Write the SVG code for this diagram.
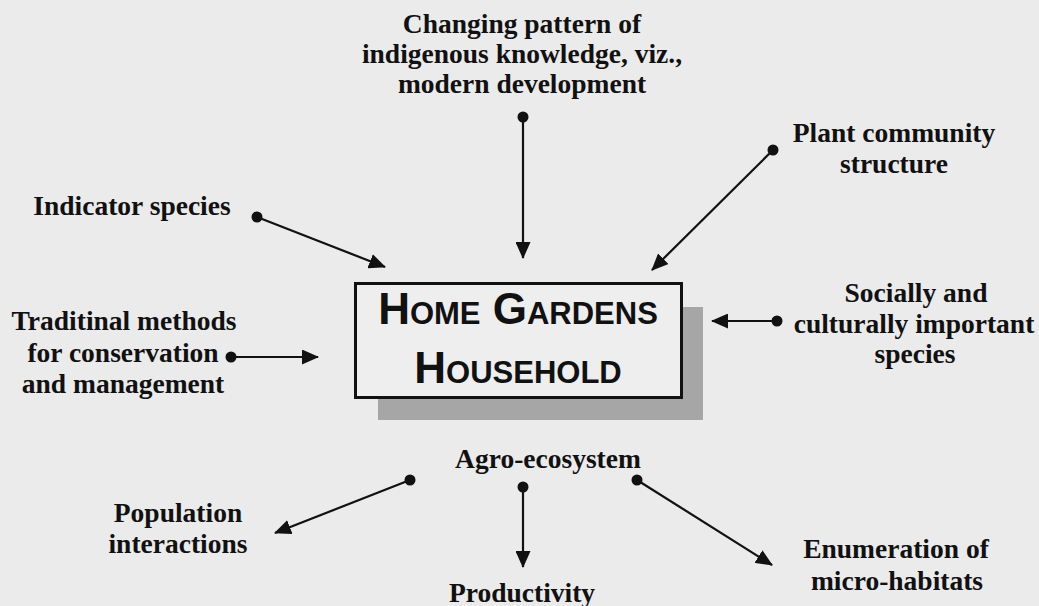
<svg xmlns="http://www.w3.org/2000/svg" width="1039" height="606" viewBox="0 0 1039 606">
  <defs>
    <marker id="arrow" viewBox="0 0 17 15" refX="16" refY="7.5" markerWidth="17" markerHeight="15" markerUnits="userSpaceOnUse" orient="auto">
      <path d="M0,0 L17,7.5 L0,15 Z" fill="#111"/>
    </marker>
    <style>
      .lbl { font-family: "Liberation Serif", "Times New Roman", serif; font-weight: bold; font-size: 27.5px; fill: #111; text-anchor: middle; }
      .title { font-family: "Liberation Sans", Arial, sans-serif; font-weight: bold; font-size: 44px; font-variant: small-caps; fill: #111; text-anchor: middle; }
      .conn line { stroke: #111; stroke-width: 2.2; marker-end: url(#arrow); }
      .conn circle { fill: #111; }
    </style>
  </defs>

  <!-- page -->
  <rect x="0" y="0" width="1039" height="606" fill="#ebebeb"/>

  <!-- central box with drop shadow -->
  <g id="home-gardens">
    <rect x="378" y="307" width="325" height="113" fill="#a6a6a6"/>
    <rect x="355.5" y="283.5" width="326" height="114" fill="#eeeeee" stroke="#111" stroke-width="3"/>
    <text class="title" x="518" y="324">Home Gardens</text>
    <text class="title" x="518" y="383">Household</text>
  </g>

  <!-- surrounding factors -->
  <g id="changing-pattern">
    <text class="lbl" x="522" y="33">Changing pattern of</text>
    <text class="lbl" x="522" y="63">indigenous knowledge, viz.,</text>
    <text class="lbl" x="522" y="93">modern development</text>
  </g>
  <g id="plant-community">
    <text class="lbl" x="894" y="142">Plant community</text>
    <text class="lbl" x="894" y="173">structure</text>
  </g>
  <g id="indicator-species">
    <text class="lbl" x="132" y="215">Indicator species</text>
  </g>
  <g id="traditional-methods">
    <text class="lbl" x="124" y="330">Traditinal methods</text>
    <text class="lbl" x="123" y="362">for conservation</text>
    <text class="lbl" x="123" y="393">and management</text>
  </g>
  <g id="socially-important">
    <text class="lbl" x="916" y="302">Socially and</text>
    <text class="lbl" x="914" y="333">culturally important</text>
    <text class="lbl" x="915" y="363">species</text>
  </g>
  <g id="agro-ecosystem">
    <text class="lbl" x="548" y="468">Agro-ecosystem</text>
  </g>
  <g id="population-interactions">
    <text class="lbl" x="178" y="522">Population</text>
    <text class="lbl" x="178" y="553">interactions</text>
  </g>
  <g id="micro-habitats">
    <text class="lbl" x="896" y="558">Enumeration of</text>
    <text class="lbl" x="897" y="590">micro-habitats</text>
  </g>
  <g id="productivity">
    <text class="lbl" x="522" y="602">Productivity</text>
  </g>

  <!-- connectors: dot at source, arrowhead at target -->
  <g id="connectors" class="conn">
    <circle cx="523" cy="117" r="5.5"/>
    <line x1="523" y1="117" x2="523" y2="258"/>
    <circle cx="773" cy="150" r="5.5"/>
    <line x1="773" y1="150" x2="652" y2="270"/>
    <circle cx="257" cy="217" r="5.5"/>
    <line x1="257" y1="217" x2="385" y2="267"/>
    <circle cx="231" cy="357" r="5.5"/>
    <line x1="231" y1="357" x2="318" y2="357"/>
    <circle cx="777" cy="321" r="5.5"/>
    <line x1="777" y1="321" x2="712" y2="321"/>
    <circle cx="410" cy="480" r="5.5"/>
    <line x1="410" y1="480" x2="275" y2="533"/>
    <circle cx="523" cy="487" r="5.5"/>
    <line x1="523" y1="487" x2="523" y2="567"/>
    <circle cx="637" cy="480" r="5.5"/>
    <line x1="637" y1="480" x2="772" y2="565"/>
  </g>
</svg>
